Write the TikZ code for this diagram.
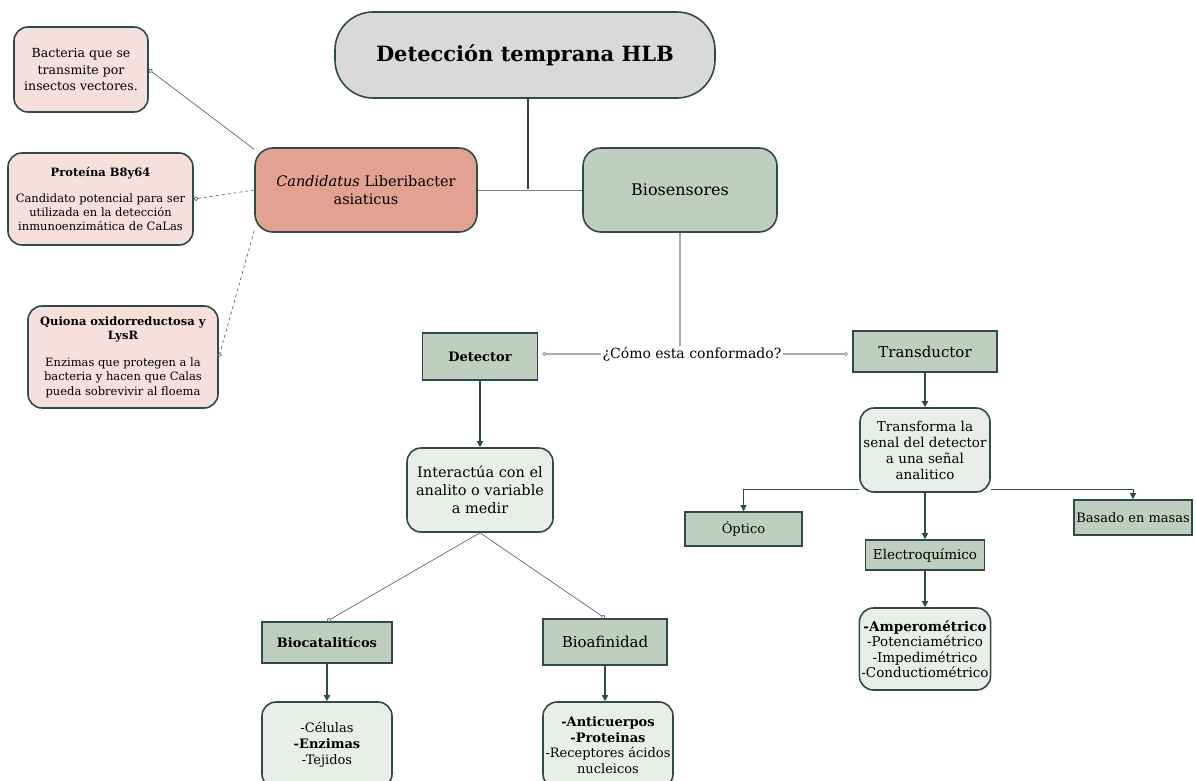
\documentclass[tikz,border=0pt]{standalone}
\usepackage{fontspec}
\setmainfont{DejaVu Serif}
\usetikzlibrary{arrows.meta}
\definecolor{bord}{HTML}{2F4A47}
\definecolor{sage}{HTML}{BFCFBD}
\definecolor{lightg}{HTML}{E9EFE8}
\definecolor{pinkb}{HTML}{F5E0DB}
\definecolor{salmon}{HTML}{E3A291}
\definecolor{greyb}{HTML}{D9D9D9}
\definecolor{lineg}{HTML}{5E6B69}
\definecolor{linel}{HTML}{A3ADAB}
\tikzset{
  basebox/.style={draw=bord, line width=1.6pt, align=center, inner sep=2pt},
  rbox/.style={basebox, rounded corners=14pt},
  sbox/.style={basebox, fill=sage},
  darkarrow/.style={draw=bord, line width=1.6pt, -{Triangle[length=6pt,width=6pt]}},
  circtip/.style={-{Circle[open,length=4.5pt,width=4.5pt]}},
  thinline/.style={draw=lineg, line width=0.7pt},
}
\newcommand{\fsz}[2]{\fontsize{#1}{#2}\selectfont}
\begin{document}
\begin{tikzpicture}[x=1pt,y=-1pt]
\useasboundingbox (0,0) rectangle (1196,780);
% top
\node[basebox, rounded corners=38pt, fill=greyb, minimum width=380pt, minimum height=86pt, font=\fsz{21}{25}\bfseries] (title) at (525,55) {Detección temprana HLB};
\node[basebox, rounded corners=18pt, fill=salmon, minimum width=222pt, minimum height=84pt, font=\fsz{14.5}{18}] (cand) at (366,190) {\textit{Candidatus} Liberibacter\\asiaticus};
\node[basebox, rounded corners=18pt, fill=sage, minimum width=194pt, minimum height=84pt, font=\fsz{16}{19}] (bios) at (680,190) {Biosensores};
\coordinate (j) at (528,189);
\draw[draw=bord, line width=1.2pt] (j |- title.south) -- (j);
\draw[draw=bord!70, line width=1pt] (cand.east) -- (bios.west);
% left pink boxes
\node[rbox, fill=pinkb, minimum width=134pt, minimum height=85pt, font=\fsz{12.5}{16.5}] (bact) at (81,69.5) {Bacteria que se\\transmite por\\insectos vectores.};
\node[rbox, fill=pinkb, minimum width=185pt, minimum height=92pt, font=\fsz{11.5}{14}] (prot) at (100.5,199) {\textbf{Proteína B8y64}\\[12pt]Candidato potencial para ser\\utilizada en la detección\\inmunoenzimática de CaLas};
\node[rbox, fill=pinkb, minimum width=190pt, minimum height=102pt, font=\fsz{11.5}{14.5}] (quio) at (123,357) {\textbf{Quiona oxidorreductosa y}\\\textbf{LysR}\\[12pt]Enzimas que protegen a la\\bacteria y hacen que Calas\\pueda sobrevivir al floema};
\draw[thinline, circtip] (cand.160) -- (bact.east);
\draw[thinline, dashed, circtip] (cand.west) -- (prot.east);
\draw[thinline, dashed, circtip] (cand.200) -- (quio.east);
% middle
\node[sbox, minimum width=115pt, minimum height=47pt, font=\fsz{13}{16}\bfseries] (det) at (480,356.5) {Detector};
\node[sbox, minimum width=144pt, minimum height=41pt, font=\fsz{15}{18}] (trans) at (925,351.5) {Transductor};
\node[fill=white, inner sep=1pt, font=\fsz{14}{17}] (q) at (692,354) {¿Cómo esta conformado?};
\draw[draw=linel, line width=1.2pt] (bios.south) -- (bios.south |- q.north);
\draw[draw=linel, line width=1.2pt, circtip, shorten >=4pt] (q.west) -- (q.west -| det.east);
\draw[draw=linel, line width=1.2pt, circtip, shorten >=4pt] (q.east) -- (q.east -| trans.west);
% detector branch
\node[rbox, fill=lightg, minimum width=146pt, minimum height=84pt, font=\fsz{14.5}{18}] (inter) at (480,490) {Interactúa con el\\analito o variable\\a medir};
\draw[darkarrow] (det.south) -- (det.south |- inter.north);
\node[sbox, minimum width=130pt, minimum height=41pt, font=\fsz{13}{16}\bfseries] (bioc) at (327,642.5) {Biocatalitícos};
\node[sbox, minimum width=124pt, minimum height=46pt, font=\fsz{15}{18}] (bioa) at (605,642) {Bioafinidad};
\draw[thinline, circtip] (inter.south) -- (bioc.north);
\draw[thinline, circtip] (inter.south) -- (bioa.north);
\node[rbox, fill=lightg, minimum width=130pt, minimum height=86pt, font=\fsz{13}{16}] (cel) at (327,745) {-Células\\\textbf{-Enzimas}\\-Tejidos};
\node[rbox, fill=lightg, minimum width=130pt, minimum height=86pt, font=\fsz{13}{15.5}] (anti) at (608,745) {\textbf{-Anticuerpos}\\\textbf{-Proteinas}\\-Receptores ácidos\\nucleicos};
\draw[darkarrow] (bioc.south) -- (bioc.south |- cel.north);
\draw[darkarrow] (bioa.south) -- (bioa.south |- anti.north);
% transductor branch
\node[rbox, fill=lightg, minimum width=130pt, minimum height=84pt, font=\fsz{13.5}{16}] (trf) at (925,450) {Transforma la\\senal del detector\\a una señal\\analitico};
\draw[darkarrow] (trans.south) -- (trans.south |- trf.north);
\node[sbox, minimum width=117pt, minimum height=34pt, font=\fsz{13}{15}] (opt) at (743.5,529) {Óptico};
\node[sbox, minimum width=118pt, minimum height=35pt, font=\fsz{13}{15}] (bas) at (1133,517.5) {Basado en masas};
\node[sbox, minimum width=119pt, minimum height=30pt, font=\fsz{13.5}{15}] (elec) at (925,555) {Electroquímico};
\draw[draw=bord, line width=1pt, -{Triangle[length=6pt,width=6pt]}] ([yshift=3pt]trf.south west) -| (opt.north);
\draw[draw=bord, line width=1pt, -{Triangle[length=6pt,width=6pt]}] ([yshift=3pt]trf.south east) -| (bas.north);
\draw[darkarrow] (trf.south) -- (trf.south |- elec.north);
\node[rbox, fill=lightg, minimum width=130pt, minimum height=82pt, font=\fsz{13.5}{15.5}] (amp) at (925,649) {\textbf{-Amperométrico}\\-Potenciamétrico\\-Impedimétrico\\-Conductiométrico};
\draw[darkarrow] (elec.south) -- (elec.south |- amp.north);
\end{tikzpicture}
\end{document}
